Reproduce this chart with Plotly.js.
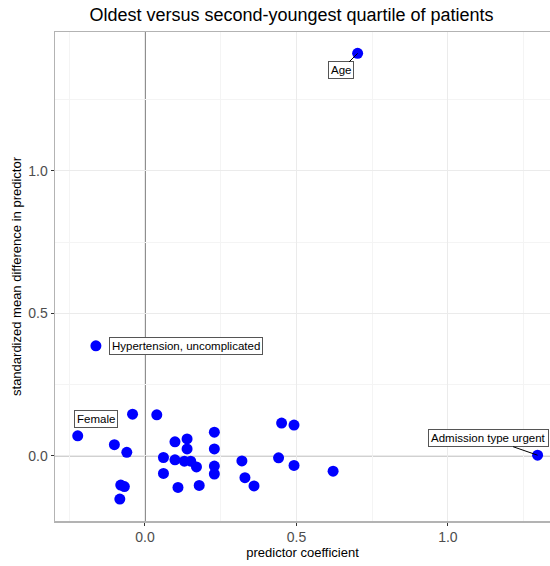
<!DOCTYPE html>
<html>
<head>
<meta charset="utf-8">
<script src="https://cdn.plot.ly/plotly-3.0.1.min.js"></script>
<style>html,body{margin:0;padding:0;background:#fff;}#chart{width:550px;height:566px;}</style>
</head>
<body>
<div id="chart"></div>
<script>
// predictor coefficient (x) and standardized mean difference (y)
const coef = [-0.222, -0.041, 0.039, -0.101, -0.060, -0.080, -0.068, -0.083, 0.099, 0.139, 0.139, 0.061, 0.099, 0.130, 0.151, 0.170, 0.061, 0.109, 0.179, 0.229, 0.229, 0.229, 0.229, 0.320, 0.330, 0.360, 0.451, 0.492, 0.441, 0.492, 0.621, 0.702, -0.162, 1.296];
const smd  = [0.070, 0.146, 0.144, 0.039, 0.012, -0.103, -0.108, -0.152, 0.049, 0.059, 0.024, -0.006, -0.014, -0.019, -0.019, -0.039, -0.062, -0.111, -0.104, 0.083, 0.024, -0.036, -0.064, -0.018, -0.077, -0.106, 0.115, 0.108, -0.007, -0.034, -0.054, 1.413, 0.386, 0.002];
const labelIndex = [0, 31, 32, 33];
const labelText = ["Female", "Age", "Hypertension, uncomplicated", "Admission type urgent"];
const xTicks = [0, 0.5, 1.0];
const xTickText = ["0.0", "0.5", "1.0"];
const yTicks = [0, 0.5, 1.0];
const yTickText = ["0.0", "0.5", "1.0"];

// label placement (pixel offsets of label centre from point) - style only
const labelOffsets = [[18, -17], [-17, 17], [90, 0], [-49, -17]];
const showSegment = [false, true, false, true];

const FONT = "Liberation Sans, Arial, sans-serif";

const annotations = labelIndex.map((idx, k) => ({
  x: coef[idx], y: smd[idx], xref: 'x', yref: 'y',
  text: labelText[k],
  showarrow: true, arrowhead: 0, arrowwidth: 1,
  arrowcolor: showSegment[k] ? '#000' : 'rgba(0,0,0,0)',
  ax: labelOffsets[k][0], ay: labelOffsets[k][1],
  bgcolor: '#fff', bordercolor: '#555', borderwidth: 1, borderpad: 2,
  font: {family: FONT, size: 11.5, color: '#000'}
}));

const trace = {
  x: coef, y: smd, type: 'scatter', mode: 'markers',
  marker: {color: '#0000ff', size: 11},
  hoverinfo: 'x+y'
};

const layout = {
  width: 550, height: 566,
  margin: {l: 55, r: 0, t: 32, b: 45},
  paper_bgcolor: '#fff', plot_bgcolor: '#fff',
  showlegend: false,
  title: {text: 'Oldest versus second-youngest quartile of patients',
          font: {family: FONT, size: 18, color: '#000'},
          x: 0.53, xanchor: 'center', y: 0.985, yanchor: 'top'},
  xaxis: {
    range: [-0.297, 1.337], tickvals: xTicks, ticktext: xTickText,
    showgrid: true, gridcolor: '#ebebeb', gridwidth: 1,
    minor: {dtick: 0.25, tick0: 0, showgrid: true, gridcolor: '#f4f4f4', gridwidth: 1, ticks: ''},
    zeroline: false, showline: true, linecolor: '#b3b3b3', linewidth: 1.5, mirror: true,
    ticks: 'outside', ticklen: 3, tickcolor: '#333', tickwidth: 1,
    tickfont: {family: FONT, size: 14, color: '#4d4d4d'},
    title: {text: 'predictor coefficient', font: {family: FONT, size: 13, color: '#000'}, standoff: 1}
  },
  yaxis: {
    range: [-0.229, 1.488], tickvals: yTicks, ticktext: yTickText,
    showgrid: true, gridcolor: '#ebebeb', gridwidth: 1,
    minor: {dtick: 0.25, tick0: 0, showgrid: true, gridcolor: '#f4f4f4', gridwidth: 1, ticks: ''},
    zeroline: false, showline: true, linecolor: '#b3b3b3', linewidth: 1.5,
    ticks: 'outside', ticklen: 3, tickcolor: '#333', tickwidth: 1,
    tickfont: {family: FONT, size: 14, color: '#4d4d4d'},
    title: {text: 'standardized mean difference in predictor', font: {family: FONT, size: 13, color: '#000'}, standoff: 3}
  },
  shapes: [
    {type: 'line', xref: 'x', yref: 'paper', x0: 0, x1: 0, y0: 0, y1: 1, line: {color: '#111', width: 1}, layer: 'below'},
    {type: 'line', xref: 'paper', yref: 'y', x0: 0, x1: 1, y0: 0, y1: 0, line: {color: '#555', width: 1}, layer: 'below'}
  ],
  annotations: annotations
};

Plotly.newPlot('chart', [trace], layout, {displayModeBar: false, staticPlot: true});
</script>
</body>
</html>
